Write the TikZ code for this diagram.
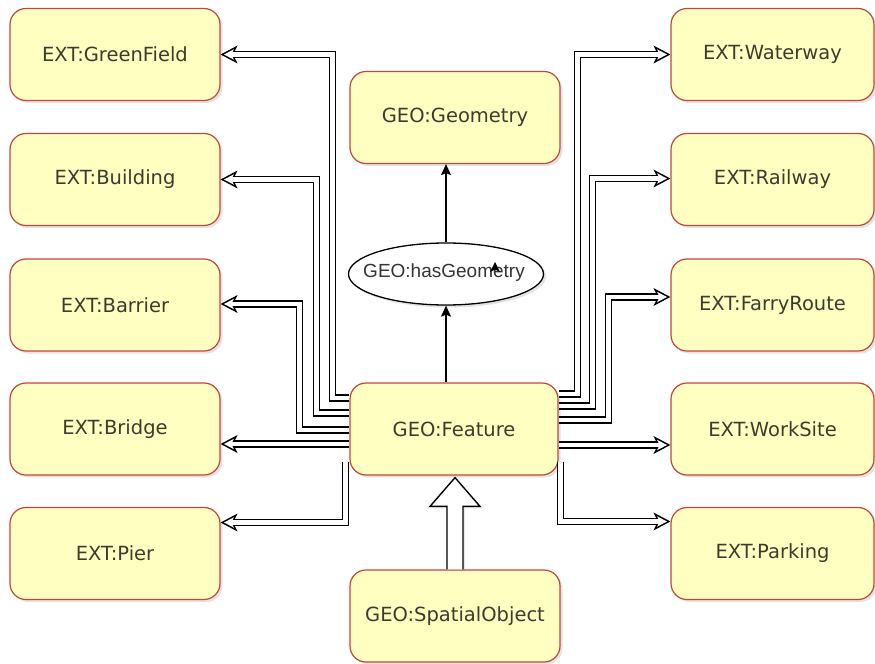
\documentclass[tikz,border=0pt]{standalone}
\usepackage{fontspec}
\setmainfont{DejaVu Sans}
\newfontfamily\ellipsefont{Liberation Sans}
\usetikzlibrary{arrows.meta,calc,shadows,shapes.geometric}

\definecolor{boxfill}{RGB}{255,255,194}
\definecolor{boxline}{RGB}{195,70,60}
\definecolor{boxtext}{RGB}{60,60,45}

\begin{document}
\begin{tikzpicture}[x=1bp,y=-1bp,
  entity/.style={draw=boxline, line width=1.2bp, fill=boxfill,
    rounded corners=16bp, minimum width=210bp, minimum height=92bp,
    inner sep=0pt, text=boxtext, font=\fontsize{19.5bp}{22bp}\selectfont,
    drop shadow={opacity=0.22, shadow xshift=2.5bp, shadow yshift=-2.5bp}},
  relation/.style={draw, ellipse, fill=white, line width=1.3bp,
    minimum width=195bp, minimum height=62bp, inner sep=0pt,
    drop shadow={opacity=0.22, shadow xshift=2.5bp, shadow yshift=-2.5bp}},
  reltext/.style={inner sep=0pt, text=black!80,
    font=\ellipsefont\fontsize{19bp}{22bp}\selectfont},
  % hollow double connector: black band, then a white core with a white inner tip
  link/.style={line width=7.5bp,
    -{Stealth[length=17bp, width=18bp, inset=4.5bp, line width=0pt]},
    postaction={draw=white, line width=4.3bp, shorten >=3.4bp,
      -{Stealth[length=9.94bp, width=10.5bp, inset=2.63bp, line width=0pt]}}},
  thinarrow/.style={line width=1.4bp, -{Stealth[length=11bp, width=10bp, inset=2bp]}},
  bigarrow/.style={draw, fill=white, line width=1.4bp, line join=miter,
    drop shadow={opacity=0.18, shadow xshift=2bp, shadow yshift=-2bp}}
]
\useasboundingbox (0,0) rectangle (875,664);

% left column
\node[entity] (gf)   at (115,54.5)  {EXT:GreenField};
\node[entity] (bld)  at (115,179.5) {EXT:Building};
\node[entity] (bar)  at (115,305)   {EXT:Barrier};
\node[entity] (brg)  at (115,429)   {EXT:Bridge};
\node[entity] (pier) at (115,553.5) {EXT:Pier};

% right column
\node[entity, minimum width=203bp] (ww) at (772.5,54.5)  {EXT:Waterway};
\node[entity, minimum width=203bp] (rw) at (772.5,179.5) {EXT:Railway};
\node[entity, minimum width=203bp] (fr) at (772.5,305)   {EXT:FarryRoute};
\node[entity, minimum width=203bp] (ws) at (772.5,429)   {EXT:WorkSite};
\node[entity, minimum width=203bp] (pk) at (772.5,553.5) {EXT:Parking};

% middle column
\node[entity] (geom) at (455,117.5) {GEO:Geometry};
\node[entity, minimum width=208bp] (feat) at (454,429) {GEO:Feature};
\node[entity] (spat) at (455,616) {GEO:SpatialObject};
\node[relation] (has) at (446,274) {};
\node[reltext] (hastxt) at (444,273) {GEO:hasGeometry};

% specialisation links to the left
\draw[link] ($(feat.west)+(0,-31)$) -- ++(-17,0) |- (gf.east);
\draw[link] ($(feat.west)+(0,-16)$) -- ++(-33,0) |- (bld.east);
\draw[link] ($(feat.west)+(0,1)$) -- ++(-50,0) |- ($(bar.east)+(0,-1)$);
\draw[link] ($(feat.west)+(0,15)$) -- ($(brg.east)+(0,15)$);
\draw[link] ($(feat.west)+(-4,33)$) |- ($(pier.east)+(0,-31)$);

% specialisation links to the right
\draw[link] ($(feat.east)+(0,-35)$) -- ++(19,0) |- (ww.west);
\draw[link] ($(feat.east)+(0,-23)$) -- ++(34,0) |- ($(rw.west)+(0,-1)$);
\draw[link] ($(feat.east)+(0,-9)$) -- ++(50,0) |- ($(fr.west)+(0,-8)$);
\draw[link] ($(feat.east)+(0,16)$) -- ($(ws.west)+(0,16)$);
\draw[link] ($(feat.east)+(2,33)$) |- ($(pk.west)+(0,-32)$);

% property chain Feature -> hasGeometry -> Geometry
\draw[thinarrow] (has.south |- feat.north) -- (has.south);
\draw[thinarrow] (has.north) -- (has.north |- geom.south);
\fill ($(has.center)+(49,-12)$) -- ++(-5,10) -- ++(5,-2.5) -- ++(5,2.5) -- cycle;

% block arrow SpatialObject -> Feature
\path[bigarrow] ($(spat.north)+(-8,0)$) -- ($(spat.north)+(-8,-63)$)
  -- ($(spat.north)+(-25,-63)$) -- ($(feat.south)+(1,2)$)
  -- ($(spat.north)+(25,-63)$) -- ($(spat.north)+(8,-63)$)
  -- ($(spat.north)+(8,0)$);
\end{tikzpicture}
\end{document}
